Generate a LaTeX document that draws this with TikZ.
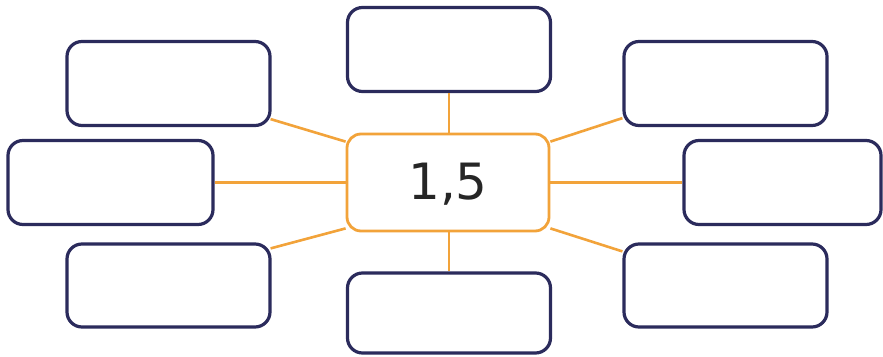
\documentclass[tikz,border=0pt]{standalone}
\usepackage{fontspec}
\newfontfamily\numfont{DejaVu Sans}
\usetikzlibrary{calc}
\definecolor{boxnavy}{HTML}{2B2B5C}
\definecolor{linkorange}{HTML}{F2A33A}
\tikzset{
  emptybox/.style={draw=boxnavy, line width=3.2pt, rounded corners=15pt, fill=white,
    minimum width=203pt, minimum height=84pt, inner sep=0pt},
  hubbox/.style={draw=linkorange, line width=2.8pt, rounded corners=14pt, fill=white,
    minimum width=202pt, minimum height=97pt, inner sep=0pt},
  link/.style={draw=linkorange, line width=2.6pt}
}
\begin{document}
\begin{tikzpicture}[x=1pt,y=-1pt]
\useasboundingbox[fill=white] (0,0) rectangle (883,356);
\node[hubbox] (c) at (448,182.5) {};
\node[font=\numfont\fontsize{50}{54}\selectfont, text=black!85] (t) at (448,184.5) {1,5};
\node[emptybox] (tc) at (449,49.5) {};
\node[emptybox] (tl) at (168.5,83.5) {};
\node[emptybox] (tr) at (725.5,83.5) {};
\node[emptybox, minimum width=205pt] (ml) at (110.5,182.5) {};
\node[emptybox, minimum width=197pt] (mr) at (782.5,182.5) {};
\node[emptybox, minimum height=83pt] (bl) at (168.5,285.5) {};
\node[emptybox, minimum height=83pt] (br) at (725.5,285.5) {};
\node[emptybox, minimum height=80pt] (bc) at (449,313) {};
\draw[link] (tc.south) -- (tc.south |- c.north);
\draw[link] (c.south -| bc.north) -- (bc.north);
\draw[link] (ml.east) -- (c.west);
\draw[link] (c.east) -- (mr.west);
\draw[link] ([shift={(-1,-8)}]tl.south east) -- ([shift={(0,9)}]c.north west);
\draw[link] ([shift={(0,9)}]c.north east) -- ([shift={(0,-9)}]tr.south west);
\draw[link] ([shift={(0,-4)}]c.south west) -- ([shift={(-1,6)}]bl.north east);
\draw[link] ([shift={(0,-4)}]c.south east) -- ([shift={(0,9)}]br.north west);
\end{tikzpicture}
\end{document}
